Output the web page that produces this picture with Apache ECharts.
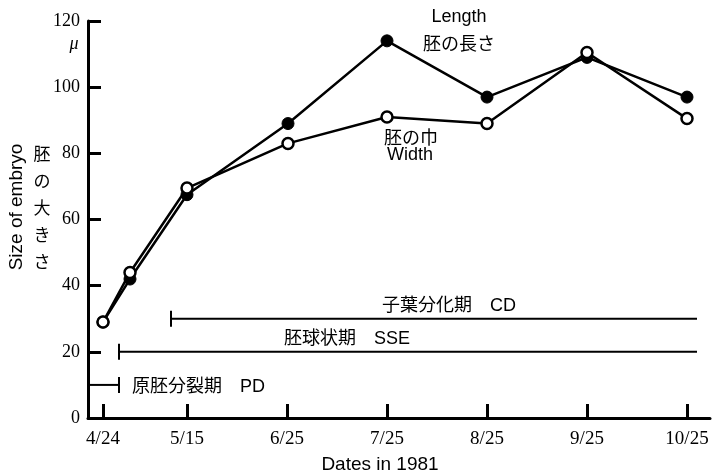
<!DOCTYPE html>
<html><head><meta charset="utf-8">
<script src="https://cdn.jsdelivr.net/npm/echarts@6/dist/echarts.min.js"></script>
<style>html,body{margin:0;padding:0;background:#fff}#c{width:720px;height:476px}</style>
</head><body><div id="c"></div>
<script>
// x positions in "month" units from 4/24 (as drawn on the original axis)
const xTickValues = [0, 0.84, 1.84, 2.84, 3.84, 4.84, 5.84];
const xTickLabels = ['4/24', '5/15', '6/25', '7/25', '8/25', '9/25', '10/25'];
const sampleX = [0, 0.27, 0.84, 1.85, 2.84, 3.84, 4.84, 5.84];
const lengthValues = [29, 42, 67.5, 89, 114, 97, 109, 97];
const widthValues = [29, 44, 69.5, 83, 91, 89, 110.5, 90.5];
const phaseNames = ['原胚分裂期　PD', '胚球状期　SSE', '子葉分化期　CD'];
const phaseStart = [-0.15, 0.16, 0.68];
const phaseEnd = [0.16, 5.94, 5.94];
const phaseLevel = [10, 20, 30];
const phaseTickAt = ['end', 'start', 'start'];

const chart = echarts.init(document.getElementById('c'), null, {renderer: 'canvas'});
const serif = 'Liberation Serif';
const sans = 'Liberation Sans';
const mixed = '"Liberation Sans", "Noto Sans CJK JP"';

const phaseData = phaseNames.map((n, i) => [phaseStart[i], phaseEnd[i], phaseLevel[i], i]);

chart.setOption({
  animation: false,
  backgroundColor: '#fff',
  grid: {left: 88, right: 10, top: 21, bottom: 58},
  xAxis: {
    type: 'value', min: -0.15, max: 6.07,
    splitLine: {show: false},
    axisLine: {show: true, onZero: false, lineStyle: {color: '#000', width: 3}},
    axisTick: {show: true, inside: true, length: 14, customValues: xTickValues, lineStyle: {color: '#000', width: 3}},
    axisLabel: {show: true, customValues: xTickValues, margin: 12, color: '#000', fontFamily: serif, fontSize: 19,
      formatter: v => { const i = xTickValues.findIndex(t => Math.abs(t - v) < 1e-6); return i >= 0 ? xTickLabels[i] : ''; }}
  },
  yAxis: {
    type: 'value', min: 0, max: 120, interval: 20,
    splitLine: {show: false},
    axisLine: {show: true, onZero: false, lineStyle: {color: '#000', width: 3}},
    axisTick: {show: true, inside: true, length: 13, lineStyle: {color: '#000', width: 3}},
    axisLabel: {margin: 8, color: '#000', fontFamily: serif, fontSize: 18}
  },
  series: [
    {
      type: 'custom', name: 'phases', silent: true,
      data: phaseData,
      renderItem: (params, api) => {
        const s = api.coord([api.value(0), api.value(2)]);
        const e = api.coord([api.value(1), api.value(2)]);
        const i = api.value(3);
        const tx = phaseTickAt[i] === 'end' ? e[0] : s[0];
        return {type: 'group', children: [
          {type: 'line', shape: {x1: s[0], y1: s[1], x2: e[0], y2: e[1]}, style: {stroke: '#000', lineWidth: 2}},
          {type: 'line', shape: {x1: tx, y1: s[1] - 8, x2: tx, y2: s[1] + 8}, style: {stroke: '#000', lineWidth: 2}}
        ]};
      }
    },
    {
      type: 'line', name: 'Length',
      data: sampleX.map((x, i) => [x, lengthValues[i]]),
      symbol: 'circle', symbolSize: 12,
      lineStyle: {color: '#000', width: 2.5},
      itemStyle: {color: '#000', borderColor: '#000', borderWidth: 1}
    },
    {
      type: 'line', name: 'Width',
      data: sampleX.map((x, i) => [x, widthValues[i]]),
      symbol: 'circle', symbolSize: 11, showAllSymbol: true,
      lineStyle: {color: '#000', width: 2.5},
      itemStyle: {color: '#fff', borderColor: '#000', borderWidth: 2.5}
    }
  ],
  graphic: [
    {type: 'text', x: 74, y: 44, style: {text: 'μ', font: 'italic 18px ' + serif, fill: '#000', align: 'center', verticalAlign: 'middle'}},
    {type: 'text', x: 17, y: 207, rotation: Math.PI / 2, style: {text: 'Size of embryo', font: '19px ' + sans, fill: '#000', align: 'center', verticalAlign: 'middle'}},
    {type: 'text', x: 42, y: 208, style: {text: '胚\nの\n大\nき\nさ', font: '17px "Noto Sans CJK JP"', lineHeight: 27, fill: '#000', align: 'center', verticalAlign: 'middle'}},
    {type: 'text', x: 459, y: 17, style: {text: 'Length', font: '18px ' + sans, fill: '#000', align: 'center', verticalAlign: 'middle'}},
    {type: 'text', x: 459, y: 43, style: {text: '胚の長さ', font: '18px "Noto Sans CJK JP"', fill: '#000', align: 'center', verticalAlign: 'middle'}},
    {type: 'text', x: 411, y: 137, style: {text: '胚の巾', font: '18px "Noto Sans CJK JP"', fill: '#000', align: 'center', verticalAlign: 'middle'}},
    {type: 'text', x: 410, y: 155, style: {text: 'Width', font: '18px ' + sans, fill: '#000', align: 'center', verticalAlign: 'middle'}},
    {type: 'text', x: 132, y: 387, style: {text: phaseNames[0], font: '18px ' + mixed, fill: '#000', verticalAlign: 'middle'}},
    {type: 'text', x: 284, y: 339, style: {text: phaseNames[1], font: '18px ' + mixed, fill: '#000', verticalAlign: 'middle'}},
    {type: 'text', x: 382, y: 306, style: {text: phaseNames[2], font: '18px ' + mixed, fill: '#000', verticalAlign: 'middle'}},
    {type: 'text', x: 380, y: 465, style: {text: 'Dates in 1981', font: '19px ' + sans, fill: '#000', align: 'center', verticalAlign: 'middle'}}
  ]
});
</script></body></html>
